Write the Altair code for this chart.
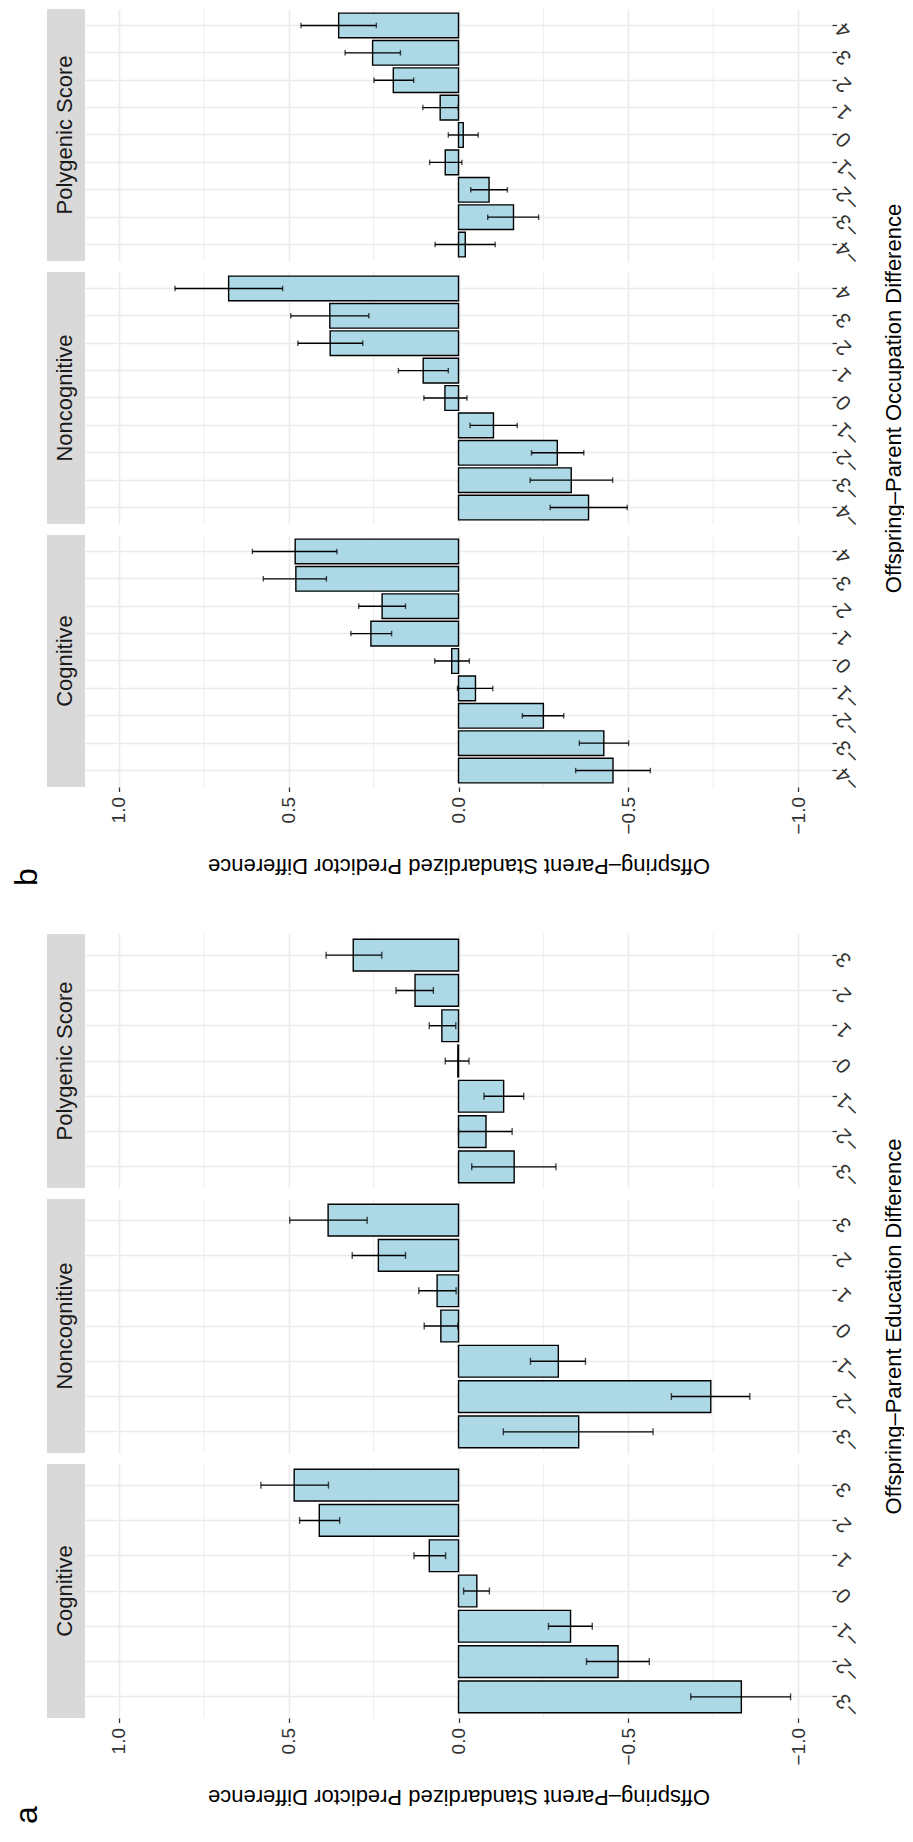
import altair as alt
import pandas as pd

# ---------------- data ----------------
edu_levels = ["−3", "−2", "−1", "0", "1", "2", "3"]
occ_levels = ["−4", "−3", "−2", "−1", "0", "1", "2", "3", "4"]
predictors = ["Cognitive", "Noncognitive", "Polygenic Score"]

# panel a: offspring-parent education difference (-3 .. 3)
edu_cog_mean = [-0.833, -0.470, -0.330, -0.054, 0.086, 0.410, 0.484]
edu_cog_lo = [-0.978, -0.562, -0.394, -0.091, 0.038, 0.350, 0.383]
edu_cog_hi = [-0.684, -0.377, -0.265, -0.015, 0.131, 0.468, 0.582]

edu_non_mean = [-0.354, -0.743, -0.294, 0.052, 0.063, 0.236, 0.384]
edu_non_lo = [-0.573, -0.858, -0.374, 0.002, 0.007, 0.156, 0.269]
edu_non_hi = [-0.132, -0.627, -0.212, 0.101, 0.117, 0.313, 0.497]

edu_pgs_mean = [-0.164, -0.081, -0.133, 0.002, 0.049, 0.128, 0.310]
edu_pgs_lo = [-0.287, -0.158, -0.192, -0.031, 0.008, 0.074, 0.226]
edu_pgs_hi = [-0.039, 0.000, -0.075, 0.039, 0.086, 0.184, 0.390]

# panel b: offspring-parent occupation difference (-4 .. 4)
occ_cog_mean = [-0.455, -0.428, -0.250, -0.050, 0.020, 0.258, 0.225, 0.479, 0.481]
occ_cog_lo = [-0.565, -0.501, -0.310, -0.101, -0.032, 0.197, 0.156, 0.389, 0.358]
occ_cog_hi = [-0.345, -0.356, -0.188, 0.003, 0.070, 0.317, 0.294, 0.575, 0.607]

occ_non_mean = [-0.383, -0.332, -0.291, -0.103, 0.040, 0.104, 0.378, 0.379, 0.677]
occ_non_lo = [-0.497, -0.454, -0.369, -0.173, -0.025, 0.030, 0.282, 0.264, 0.518]
occ_non_hi = [-0.270, -0.211, -0.215, -0.034, 0.102, 0.177, 0.473, 0.494, 0.835]

occ_pgs_mean = [-0.020, -0.162, -0.090, 0.039, -0.014, 0.054, 0.192, 0.253, 0.353]
occ_pgs_lo = [-0.108, -0.236, -0.144, -0.010, -0.058, 0.001, 0.132, 0.171, 0.242]
occ_pgs_hi = [0.069, -0.086, -0.036, 0.085, 0.030, 0.105, 0.249, 0.334, 0.464]

value_ticks = [-1.0, -0.5, 0.0, 0.5, 1.0]
minor_ticks = [-0.75, -0.25, 0.25, 0.75]

value_title = "Offspring–Parent Standardized Predictor Difference"
edu_title = "Offspring–Parent Education Difference"
occ_title = "Offspring–Parent Occupation Difference"

# ---------------- styling ----------------
FONT = "Liberation Sans, Arial, Helvetica, sans-serif"
GRID = "#EBEBEB"
W_PLOT = 747
LEFT = 77      # room left of the plot area (strip + panel letter)
ROW_GAP = 11
LINE = 1.4


def make_row(levels, mean, lo, hi, name, h, cap, bottom, cat_title, tag):
    df = pd.DataFrame({"cat": levels, "mean": mean, "lo": lo, "hi": hi})
    order = list(reversed(levels))
    xscale = alt.Scale(domain=[-1.1, 1.1], reverse=True, nice=False)
    if bottom:
        xaxis = alt.Axis(
            values=value_ticks, format=".1f", grid=True, gridColor=GRID,
            gridWidth=1.6, domain=False, ticks=True, tickSize=4.5,
            tickColor="#333333", tickWidth=1.3, labelAngle=270,
            labelAlign="right", labelBaseline="middle", labelPadding=5,
            labelFontSize=19, labelColor="#333333", labelFont=FONT,
            title=value_title, titleAngle=180, titleX=W_PLOT / 2, titleY=78,
            titleAlign="center", titleBaseline="middle", titleFontSize=22,
            titleFont=FONT, titleFontWeight="normal", titleColor="black",
        )
    else:
        xaxis = alt.Axis(
            values=value_ticks, grid=True, gridColor=GRID, gridWidth=1.6,
            domain=False, ticks=False, labels=False, title=None,
        )
    yprops = dict(
        orient="right", bandPosition=0.5, grid=True, gridColor=GRID,
        gridWidth=1.3, domain=False, tickSize=4.5, tickColor="#333333",
        tickWidth=1.3, labelAngle=225, labelAlign="right",
        labelBaseline="middle", labelPadding=3, labelFontSize=21,
        labelColor="#333333", labelFont=FONT,
    )
    if cat_title:
        yprops.update(
            title=cat_title, titleAngle=270, titleX=61, titleY=h / 2,
            titleAlign="center", titleBaseline="middle", titleFontSize=22,
            titleFont=FONT, titleFontWeight="normal", titleColor="black",
        )
    else:
        yprops.update(title=None)
    yaxis = alt.Axis(**yprops)
    yscale = alt.Scale(domain=order, paddingInner=0.1, paddingOuter=0.15)

    def Y():
        return alt.Y("cat:N", scale=yscale, axis=yaxis)

    minor = alt.Chart(pd.DataFrame({"v": minor_ticks})).mark_rule(
        color=GRID, strokeWidth=0.9
    ).encode(
        x=alt.X("v:Q", scale=xscale, axis=xaxis),
        y=alt.value(0), y2=alt.value(h),
    )
    base = alt.Chart(df)
    bars = base.mark_bar(fill="#ADD8E6", stroke="black", strokeWidth=LINE).encode(
        x=alt.X("mean:Q", scale=xscale, axis=xaxis), y=Y()
    )
    whisk = base.mark_rule(color="black", strokeWidth=LINE).encode(
        x=alt.X("lo:Q", scale=xscale, axis=xaxis), x2="hi:Q", y=Y()
    )
    cap_lo = base.mark_tick(color="black", thickness=LINE, size=cap).encode(
        x=alt.X("lo:Q", scale=xscale, axis=xaxis), y=Y()
    )
    cap_hi = base.mark_tick(color="black", thickness=LINE, size=cap).encode(
        x=alt.X("hi:Q", scale=xscale, axis=xaxis), y=Y()
    )

    # facet strip (drawn to the left of the plot area)
    sdf = pd.DataFrame({"label": [name]})
    pad_rect = alt.Chart(sdf).mark_rect(fill="white").encode(
        x=alt.value(-LEFT), x2=alt.value(-38), y=alt.value(0), y2=alt.value(h)
    )
    strip_rect = alt.Chart(sdf).mark_rect(fill="#D9D9D9").encode(
        x=alt.value(-38), x2=alt.value(0), y=alt.value(0), y2=alt.value(h)
    )
    strip_text = alt.Chart(sdf).mark_text(
        angle=270, fontSize=22, font=FONT, color="#1A1A1A",
        align="center", baseline="middle",
    ).encode(text="label:N", x=alt.value(-20), y=alt.value(h / 2))
    layers = [pad_rect, strip_rect, strip_text, minor, bars, whisk, cap_lo, cap_hi]
    if tag:
        tdf = pd.DataFrame({"t": [tag[0]]})
        layers.append(
            alt.Chart(tdf).mark_text(
                angle=270, fontSize=32, font=FONT, color="black",
                align="center", baseline="middle",
            ).encode(text="t:N", x=alt.value(-58), y=alt.value(h + tag[1]))
        )
    return alt.layer(*layers).properties(width=W_PLOT, height=h)


def make_panel(levels, series, h, cap, cat_title, tag):
    rows = []
    # facet order top->bottom: Polygenic Score, Noncognitive, Cognitive
    for name in reversed(predictors):
        mean, lo, hi = series[name]
        rows.append(
            make_row(levels, mean, lo, hi, name, h, cap,
                     bottom=(name == "Cognitive"),
                     cat_title=cat_title if name == "Noncognitive" else None,
                     tag=tag if name == "Cognitive" else None)
        )
    return rows


rows_b = make_panel(
    occ_levels,
    {
        "Cognitive": (occ_cog_mean, occ_cog_lo, occ_cog_hi),
        "Noncognitive": (occ_non_mean, occ_non_lo, occ_non_hi),
        "Polygenic Score": (occ_pgs_mean, occ_pgs_lo, occ_pgs_hi),
    },
    252, 5.5, occ_title, ("b", 90),
)
rows_a = make_panel(
    edu_levels,
    {
        "Cognitive": (edu_cog_mean, edu_cog_lo, edu_cog_hi),
        "Noncognitive": (edu_non_mean, edu_non_lo, edu_non_hi),
        "Polygenic Score": (edu_pgs_mean, edu_pgs_lo, edu_pgs_hi),
    },
    254, 7, edu_title, ("a", 97),
)

spacer = alt.Chart(pd.DataFrame({"t": [""]})).mark_text().encode(
    text="t:N"
).properties(width=W_PLOT, height=147 - 2 * ROW_GAP)

chart = (
    alt.vconcat(*rows_b, spacer, *rows_a, spacing=ROW_GAP, bounds="flush")
    .properties(padding=0, background="white")
    .configure_view(stroke=None)
)

chart.save("out.html", embed_options={"renderer": "svg", "actions": False})
